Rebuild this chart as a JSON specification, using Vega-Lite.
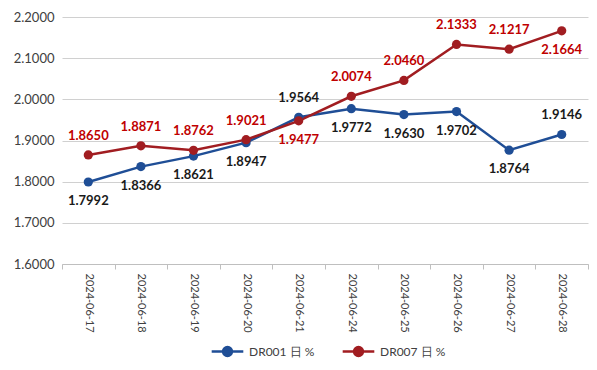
{
  "$schema": "https://vega.github.io/schema/vega-lite/v6.json",
  "width": 526,
  "height": 247,
  "autosize": {"type": "none"},
  "padding": {"left": 62, "top": 17, "right": 9, "bottom": 106},
  "background": "white",
  "config": {
    "view": {"stroke": null},
    "font": "Lato",
    "axis": {"labelFont": "Lato", "labelColor": "#404040"}
  },
  "data": {
    "values": [
      {"date": "2024-06-17", "series": "DR001 日 %", "value": 1.7992},
      {"date": "2024-06-18", "series": "DR001 日 %", "value": 1.8366},
      {"date": "2024-06-19", "series": "DR001 日 %", "value": 1.8621},
      {"date": "2024-06-20", "series": "DR001 日 %", "value": 1.8947},
      {"date": "2024-06-21", "series": "DR001 日 %", "value": 1.9564},
      {"date": "2024-06-24", "series": "DR001 日 %", "value": 1.9772},
      {"date": "2024-06-25", "series": "DR001 日 %", "value": 1.9630},
      {"date": "2024-06-26", "series": "DR001 日 %", "value": 1.9702},
      {"date": "2024-06-27", "series": "DR001 日 %", "value": 1.8764},
      {"date": "2024-06-28", "series": "DR001 日 %", "value": 1.9146},
      {"date": "2024-06-17", "series": "DR007 日 %", "value": 1.8650},
      {"date": "2024-06-18", "series": "DR007 日 %", "value": 1.8871},
      {"date": "2024-06-19", "series": "DR007 日 %", "value": 1.8762},
      {"date": "2024-06-20", "series": "DR007 日 %", "value": 1.9021},
      {"date": "2024-06-21", "series": "DR007 日 %", "value": 1.9477},
      {"date": "2024-06-24", "series": "DR007 日 %", "value": 2.0074},
      {"date": "2024-06-25", "series": "DR007 日 %", "value": 2.0460},
      {"date": "2024-06-26", "series": "DR007 日 %", "value": 2.1333},
      {"date": "2024-06-27", "series": "DR007 日 %", "value": 2.1217},
      {"date": "2024-06-28", "series": "DR007 日 %", "value": 2.1664}
    ]
  },
  "encoding": {
    "x": {
      "field": "date", "type": "ordinal", "title": null,
      "axis": {
        "labelAngle": 90, "labelAlign": "left", "labelBaseline": "middle",
        "labelFontSize": 11, "labelColor": "#404040", "labelPadding": 4,
        "domainColor": "#bfbfbf", "tickColor": "#bfbfbf", "tickSize": 5,
        "tickBand": "extent", "grid": false
      }
    },
    "y": {
      "field": "value", "type": "quantitative", "title": null,
      "scale": {"domain": [1.6, 2.2], "nice": false, "zero": false},
      "axis": {
        "values": [1.6, 1.7, 1.8, 1.9, 2.0, 2.1, 2.2],
        "format": ".4f", "labelFontSize": 13, "labelColor": "#404040",
        "domain": false, "ticks": false, "labelPadding": 8,
        "gridColor": "#d0d0d0", "gridWidth": 1
      }
    }
  },
  "layer": [
    {
      "mark": {"type": "line", "strokeWidth": 2.5},
      "encoding": {
        "color": {
          "field": "series", "type": "nominal",
          "scale": {"domain": ["DR001 日 %", "DR007 日 %"], "range": ["#1F4E96", "#A11D21"]},
          "legend": {
            "title": null, "orient": "none", "direction": "horizontal",
            "legendX": 148, "legendY": 317,
            "labelFontSize": 12, "labelColor": "#404040", "labelFont": "Lato",
            "symbolType": "M-1,0H1M-0.28,0a0.28,0.28 0 1,0 0.56,0a0.28,0.28 0 1,0 -0.56,0",
            "symbolSize": 1000, "symbolStrokeWidth": 2.5, "columnPadding": 22,
            "encode": {"symbols": {"update": {"fill": {"scale": "color", "field": "value"}}}}
          }
        }
      }
    },
    {
      "mark": {"type": "point", "filled": true, "size": 85, "opacity": 1},
      "encoding": {
        "color": {"field": "series", "type": "nominal", "legend": null}
      }
    },
    {
      "transform": [{"filter": "(datum.series == 'DR001 日 %') == (datum.date != '2024-06-21' && datum.date != '2024-06-28')"}],
      "mark": {"type": "text", "dy": 19, "fontSize": 13, "fontWeight": "bold"},
      "encoding": {
        "text": {"field": "value", "type": "quantitative", "format": ".4f"},
        "color": {"condition": {"test": "datum.series == 'DR007 日 %'", "value": "#C00000"}, "value": "#1a1a1a"}
      }
    },
    {
      "transform": [{"filter": "(datum.series == 'DR001 日 %') != (datum.date != '2024-06-21' && datum.date != '2024-06-28')"}],
      "mark": {"type": "text", "dy": -19, "fontSize": 13, "fontWeight": "bold"},
      "encoding": {
        "text": {"field": "value", "type": "quantitative", "format": ".4f"},
        "color": {"condition": {"test": "datum.series == 'DR007 日 %'", "value": "#C00000"}, "value": "#1a1a1a"}
      }
    }
  ]
}
